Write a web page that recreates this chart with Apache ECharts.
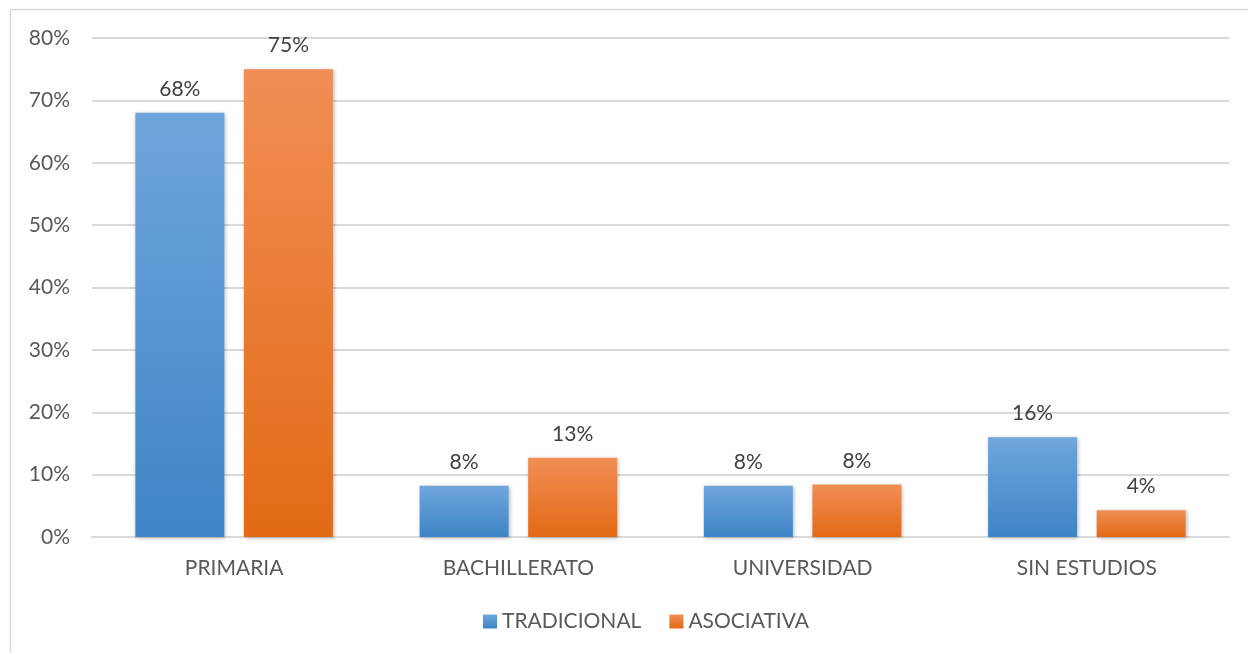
<!DOCTYPE html>
<html>
<head>
<meta charset="utf-8">
<script src="https://cdn.jsdelivr.net/npm/echarts@6/dist/echarts.min.js"></script>
<style>
  html, body { margin: 0; padding: 0; background: #ffffff; }
  #chart { width: 1248px; height: 653px; }
</style>
</head>
<body>
<div id="chart"></div>
<script>
// Education level by group
const categories = ['PRIMARIA', 'BACHILLERATO', 'UNIVERSIDAD', 'SIN ESTUDIOS'];
const seriesNames = ['TRADICIONAL', 'ASOCIATIVA'];
const tradicional = [0.68, 0.082, 0.082, 0.16];
const asociativa = [0.75, 0.127, 0.084, 0.043];
const yTicks = { min: 0, max: 0.8, interval: 0.1 };

const FONT = 'Lato, "Open Sans", sans-serif';

function grad(top, bottom) {
  return new echarts.graphic.LinearGradient(0, 0, 0, 1, [
    { offset: 0, color: top },
    { offset: 1, color: bottom }
  ]);
}

const pct = v => Math.round(v * 100) + '%';

function barSeries(name, data, top, bottom) {
  return {
    name: name,
    type: 'bar',
    data: data,
    barWidth: '31.3%',
    barGap: '22%',
    itemStyle: {
      color: grad(top, bottom),
      shadowBlur: 4,
      shadowOffsetX: 1,
      shadowOffsetY: 1,
      shadowColor: 'rgba(0,0,0,0.28)'
    },
    label: {
      show: true,
      position: 'top',
      distance: 13,
      color: '#404040',
      fontFamily: FONT,
      fontSize: 21,
      formatter: p => pct(p.value)
    }
  };
}

const chart = echarts.init(document.getElementById('chart'), null, { renderer: 'canvas' });
chart.setOption({
  animation: false,
  backgroundColor: '#ffffff',
  graphic: [{
    type: 'rect',
    shape: { x: 10.5, y: 9.5, width: 1300, height: 700 },
    style: { fill: 'none', stroke: '#d9d9d9', lineWidth: 1.5 },
    silent: true
  }],
  grid: { left: 92, right: 19, top: 38, bottom: 116, containLabel: false },
  legend: {
    bottom: 16,
    left: 478,
    itemWidth: 14,
    itemHeight: 14,
    itemGap: 28,
    icon: 'rect',
    textStyle: { color: '#595959', fontFamily: FONT, fontSize: 21 },
    data: seriesNames
  },
  xAxis: {
    type: 'category',
    data: categories,
    axisLine: { show: true, lineStyle: { color: '#d9d9d9', width: 2 } },
    axisTick: { show: false },
    axisLabel: { color: '#595959', fontFamily: FONT, fontSize: 21, margin: 21 }
  },
  yAxis: {
    type: 'value',
    min: yTicks.min,
    max: yTicks.max,
    interval: yTicks.interval,
    axisLine: { show: false },
    axisTick: { show: false },
    splitLine: { lineStyle: { color: '#d9d9d9', width: 2 } },
    axisLabel: {
      color: '#595959', fontFamily: FONT, fontSize: 21, margin: 22,
      formatter: v => pct(v)
    }
  },
  series: [
    barSeries(seriesNames[0], tradicional, '#6fa6dc', '#3e84c6'),
    barSeries(seriesNames[1], asociativa, '#f18e55', '#e26a15')
  ]
});
</script>
</body>
</html>
